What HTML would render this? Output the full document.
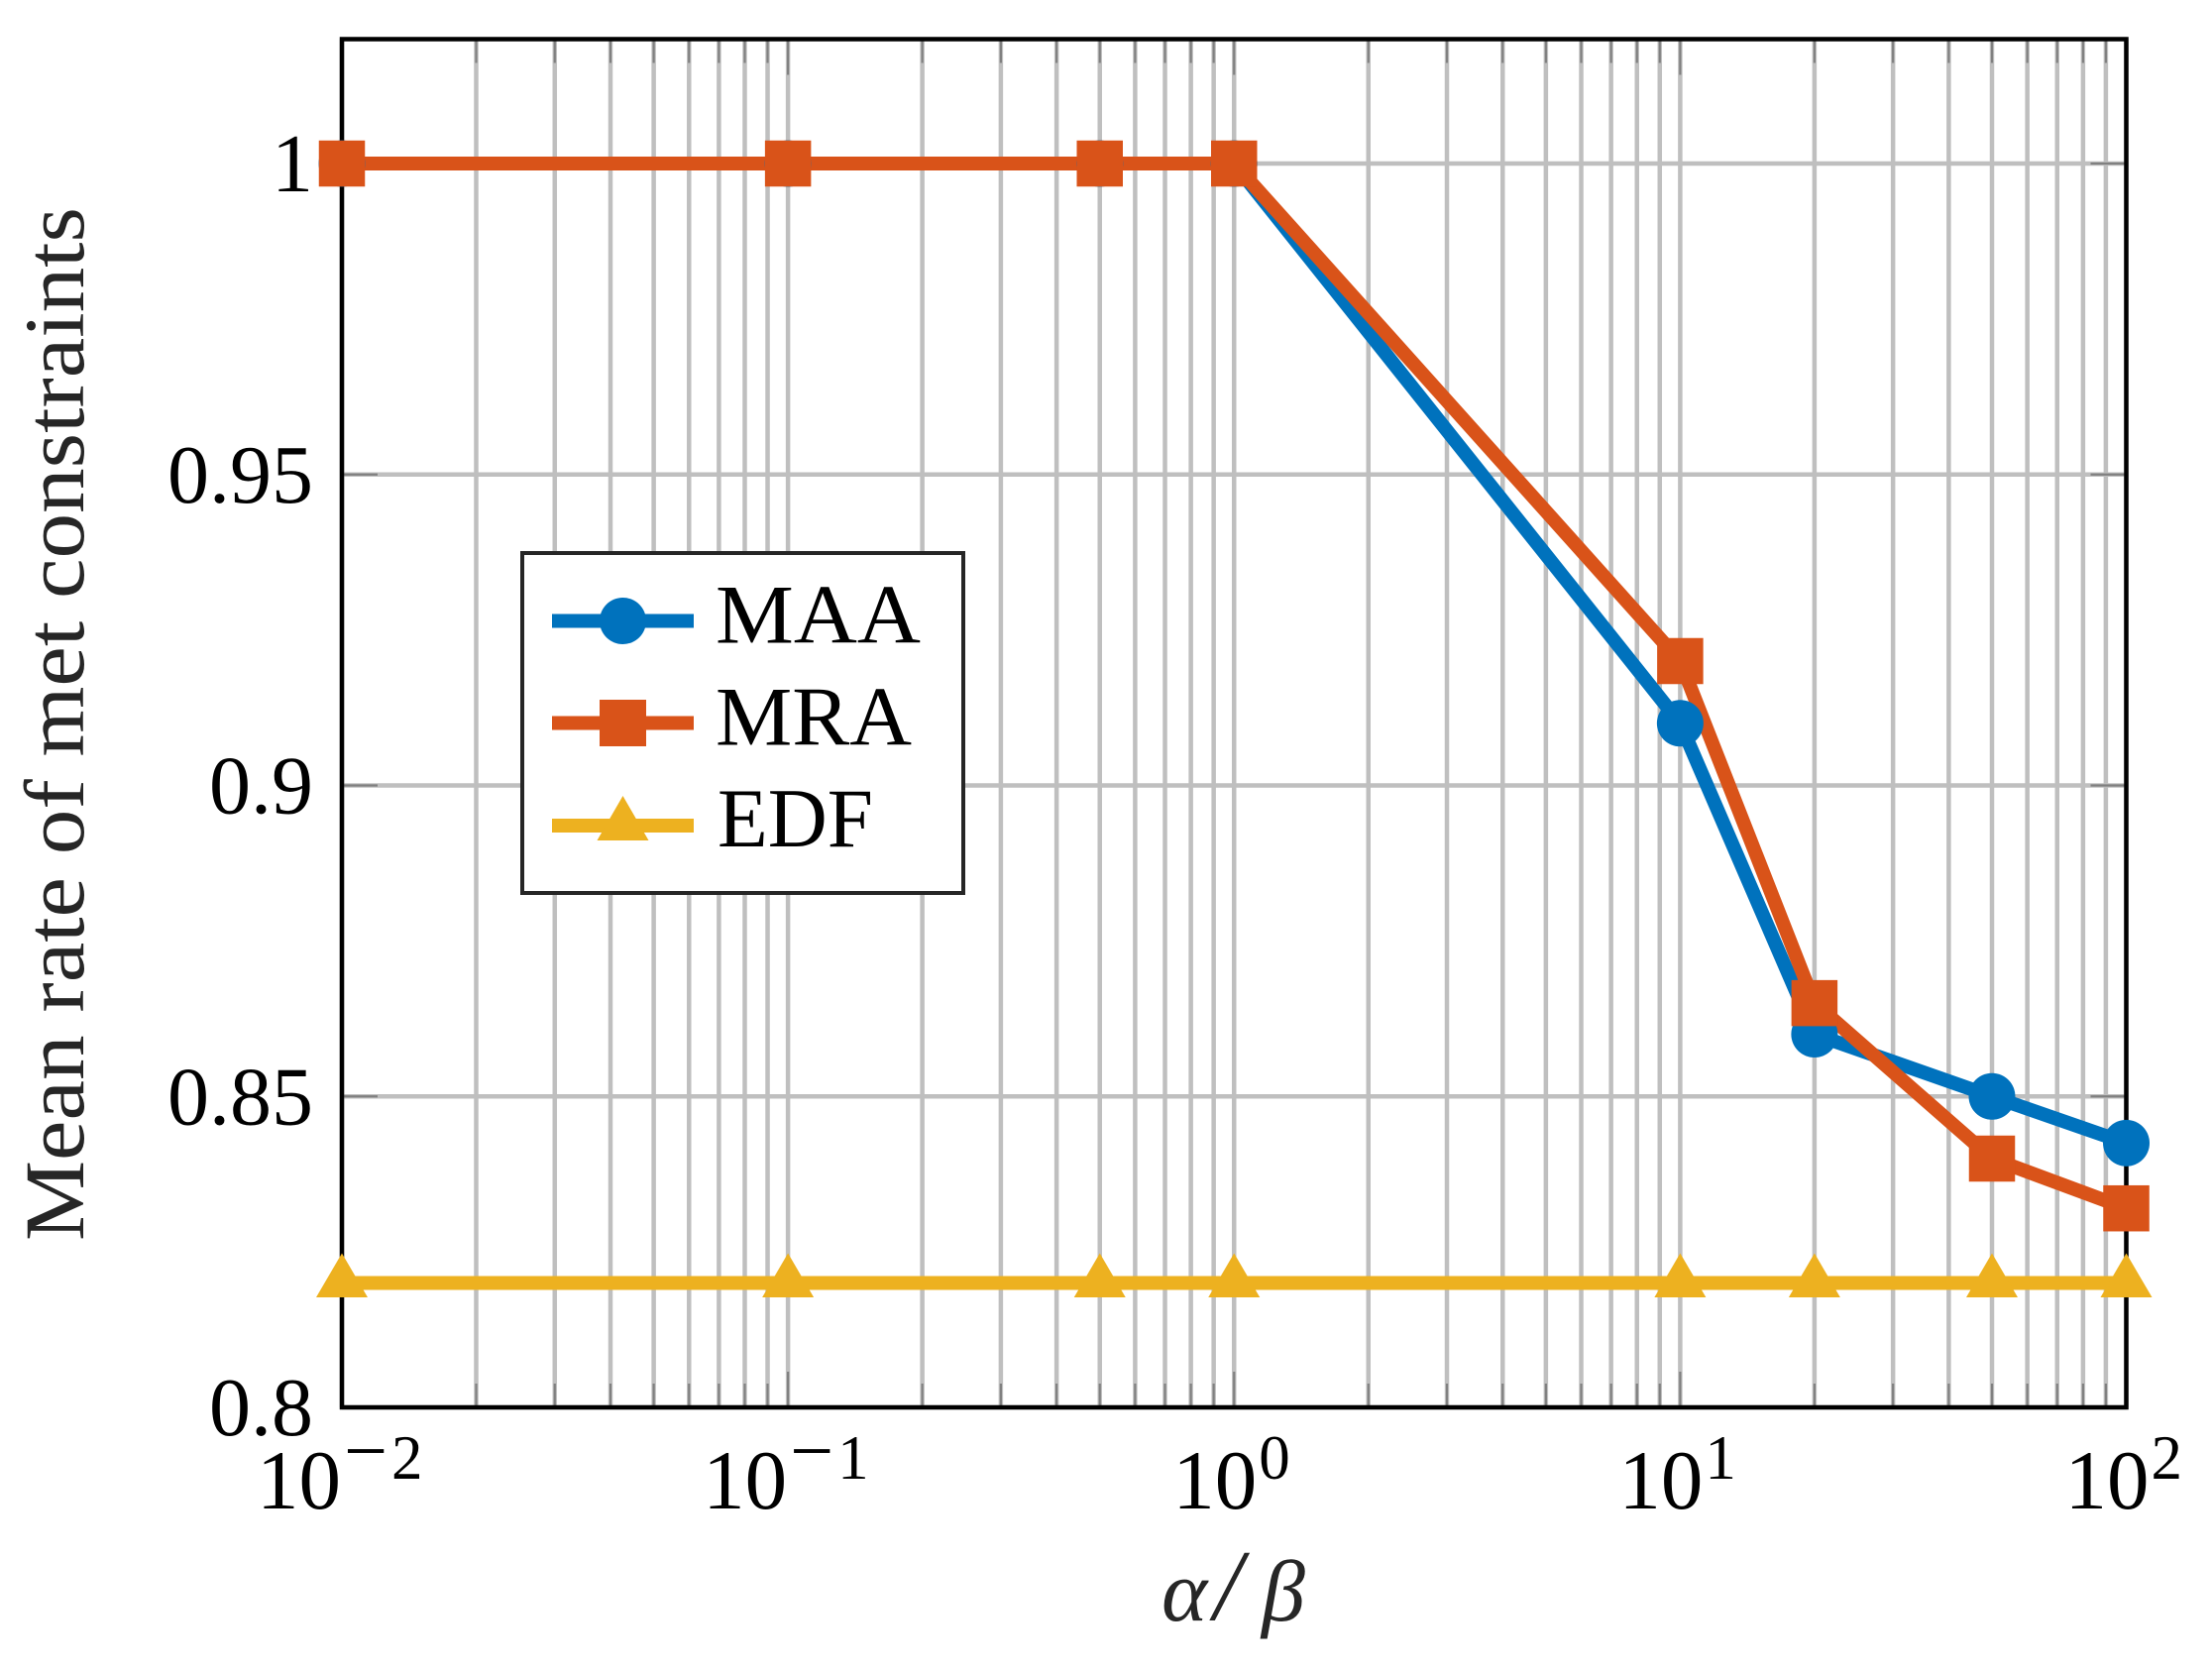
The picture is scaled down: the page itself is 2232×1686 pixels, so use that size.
<!DOCTYPE html>
<html lang="en">
<head>
<meta charset="utf-8">
<title>Mean rate of met constraints</title>
<style>
  html, body { margin: 0; padding: 0; background: #fff; }
  svg { display: block; }
  text { font-family: "Liberation Serif", serif; }
</style>
</head>
<body>
<svg id="chart" xmlns="http://www.w3.org/2000/svg" width="2232" height="1686" viewBox="0 0 2232 1686">
  <rect x="0" y="0" width="2232" height="1686" fill="#ffffff"/>
  <g id="grid"></g>
  <g id="ticks"></g>
  <rect x="345" y="39.5" width="1800.5" height="1380.5" fill="none" stroke="#000" stroke-width="4.5"/>
  <g id="labels"></g>
  <g id="lines"></g>
  <g id="marks"></g>

  <text transform="translate(84 730.5) rotate(-90)" text-anchor="middle" font-size="86" fill="#262626" textLength="1043" lengthAdjust="spacingAndGlyphs">Mean rate of met constraints</text>
  <text y="1635" font-size="88" font-style="italic" fill="#262626"><tspan x="1172">α</tspan><tspan x="1225" font-size="102" dy="-1">/</tspan><tspan x="1273" dy="1">β</tspan></text>

  <g>
    <rect x="527" y="558" width="445" height="343" fill="#ffffff" stroke="#262626" stroke-width="4"/>
    <g>
      <line x1="557" x2="700" y1="626.5" y2="626.5" stroke="#0072BD" stroke-width="14"/>
      <circle cx="628.5" cy="626.5" r="23.5" fill="#0072BD"/>
      <text x="722" y="648.5" font-size="85" fill="#000" textLength="207" lengthAdjust="spacingAndGlyphs">MAA</text>
    </g>
    <g>
      <line x1="557" x2="700" y1="729.5" y2="729.5" stroke="#D95319" stroke-width="14"/>
      <rect x="605" y="706" width="47" height="47" fill="#D95319"/>
      <text x="722" y="751.5" font-size="85" fill="#000" textLength="198" lengthAdjust="spacingAndGlyphs">MRA</text>
    </g>
    <g>
      <line x1="557" x2="700" y1="833" y2="833" stroke="#EDB120" stroke-width="14"/>
      <polygon points="628.5,803 654.5,848 602.5,848" fill="#EDB120"/>
      <text x="724" y="854" font-size="85" fill="#000" textLength="157" lengthAdjust="spacingAndGlyphs">EDF</text>
    </g>
  </g>
</svg>
<script>
// ---- chart data ----
const alphaOverBeta = [0.01, 0.1, 0.5, 1, 10, 20, 50, 100];
const maaValues = [1, 1, 1, 1, 0.91, 0.86, 0.85, 0.8425];
const mraValues = [1, 1, 1, 1, 0.92, 0.865, 0.84, 0.832];
const edfValues = [0.82, 0.82, 0.82, 0.82, 0.82, 0.82, 0.82, 0.82];
const xDecades = [-2, -1, 0, 1, 2];
const xMinorSteps = [2, 3, 4, 5, 6, 7, 8, 9];
const yTickValues = [0.8, 0.85, 0.9, 0.95, 1];
const yTickLabels = ['0.8', '0.85', '0.9', '0.95', '1'];
const xExponentLabels = ['\u22122', '\u22121', '0', '1', '2'];

// ---- axis functions ----
const NS = 'http://www.w3.org/2000/svg';
const PLOT = { left: 345, right: 2145.5, top: 39.5, bottom: 1420 };
const X_DOMAIN = [-2, 2];
const Y_DOMAIN = [0.8, 1.02];
function xPos(v) {
  return PLOT.left + (Math.log10(v) - X_DOMAIN[0]) / (X_DOMAIN[1] - X_DOMAIN[0]) * (PLOT.right - PLOT.left);
}
function yPos(v) {
  return PLOT.bottom - (v - Y_DOMAIN[0]) / (Y_DOMAIN[1] - Y_DOMAIN[0]) * (PLOT.bottom - PLOT.top);
}
function make(tag, parentId, attrs, text) {
  const el = document.createElementNS(NS, tag);
  for (const k in attrs) el.setAttribute(k, attrs[k]);
  if (text !== undefined) el.textContent = text;
  document.getElementById(parentId).appendChild(el);
  return el;
}

// ---- grid and ticks ----
const GRID = { stroke: '#bfbfbf', 'stroke-width': 4.5 };
const TICK = { stroke: '#808080', 'stroke-width': 2.2 };
function drawXGridAndTicks(v, len, kind) {
  const x = xPos(v);
  const g = make('line', 'grid', Object.assign({ x1: x, x2: x, y1: PLOT.top, y2: PLOT.bottom }, GRID));
  
  
  const b = make('line', 'ticks', Object.assign({ x1: x, x2: x, y1: PLOT.bottom, y2: PLOT.bottom - len }, TICK));
  
  
  const t = make('line', 'ticks', Object.assign({ x1: x, x2: x, y1: PLOT.top, y2: PLOT.top + len }, TICK));
  
  
}
xDecades.forEach(function (d, i) {
  drawXGridAndTicks(Math.pow(10, d), 36, 'major');
  if (i < xDecades.length - 1) {
    xMinorSteps.forEach(function (m) {
      drawXGridAndTicks(m * Math.pow(10, d), 24, 'minor');
    });
  }
});
yTickValues.forEach(function (v) {
  const y = yPos(v);
  const g = make('line', 'grid', Object.assign({ x1: PLOT.left, x2: PLOT.right, y1: y, y2: y }, GRID));
  
  
  const l = make('line', 'ticks', Object.assign({ x1: PLOT.left, x2: PLOT.left + 36, y1: y, y2: y }, TICK));
  
  
  const r = make('line', 'ticks', Object.assign({ x1: PLOT.right, x2: PLOT.right - 36, y1: y, y2: y }, TICK));
  
  
});

// ---- tick labels ----
yTickValues.forEach(function (v, i) {
  const t = make('text', 'labels', { x: 316, y: yPos(v) + 28, 'font-size': 84, 'text-anchor': 'end', fill: '#000' }, yTickLabels[i]);
  
  
});
xDecades.forEach(function (d, i) {
  const cx = xPos(Math.pow(10, d));
  const negative = d < 0;
  const start = cx - (negative ? 86 : 62);
  const base = make('text', 'labels', { x: start, y: 1522, 'font-size': 85, fill: '#000' }, '10');
  
  
  if (negative) {
    const minus = make('text', 'labels', { x: cx + 2, y: 1490, 'font-size': 78, fill: '#000' }, xExponentLabels[i].charAt(0));
    
    
  }
  const sup = make('text', 'labels', { x: negative ? cx + 50 : cx + 25, y: 1492, 'font-size': 63, fill: '#000' }, negative ? xExponentLabels[i].charAt(1) : xExponentLabels[i]);
  
  
});

// ---- series lines (all lines first, markers above them) ----
function drawLine(values, color, name) {
  const pts = values.map(function (v, i) { return xPos(alphaOverBeta[i]) + ',' + yPos(v); }).join(' ');
  const p = make('polyline', 'lines', { points: pts, fill: 'none', stroke: color, 'stroke-width': 14 });
  
  
}
drawLine(maaValues, '#0072BD', 'series-line-maa');
drawLine(mraValues, '#D95319', 'series-line-mra');
drawLine(edfValues, '#EDB120', 'series-line-edf');

// ---- series markers ----
maaValues.forEach(function (v, i) {
  const c = make('circle', 'marks', { cx: xPos(alphaOverBeta[i]), cy: yPos(v), r: 23.5, fill: '#0072BD' });
  
  
});
mraValues.forEach(function (v, i) {
  const s = make('rect', 'marks', { x: xPos(alphaOverBeta[i]) - 23.25, y: yPos(v) - 23.25, width: 46.5, height: 46.5, fill: '#D95319' });
  
  
});
edfValues.forEach(function (v, i) {
  const x = xPos(alphaOverBeta[i]);
  const y = yPos(v);
  const pts = x + ',' + (y - 30) + ' ' + (x + 26) + ',' + (y + 14.5) + ' ' + (x - 26) + ',' + (y + 14.5);
  const t = make('polygon', 'marks', { points: pts, fill: '#EDB120' });
  
  
});
</script>
</body>
</html>
